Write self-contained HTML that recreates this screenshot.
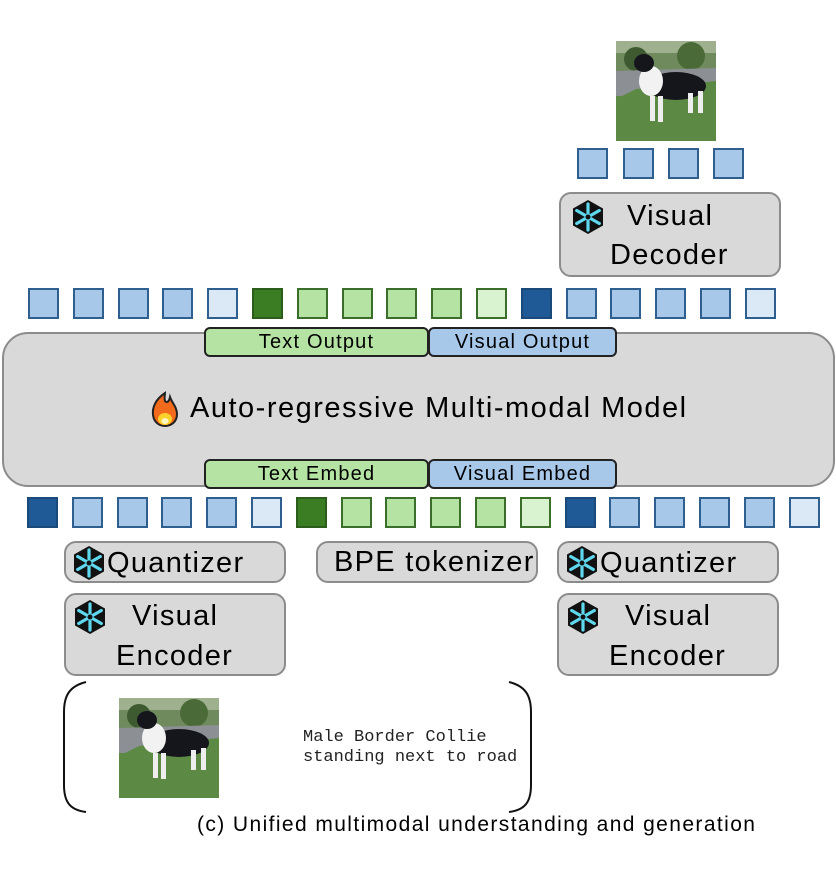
<!DOCTYPE html>
<html><head><meta charset="utf-8"><style>
body{margin:0;width:836px;height:888px;background:#fff;position:relative;overflow:hidden;font-family:"Liberation Sans",sans-serif;}
.a{position:absolute;box-sizing:border-box;}
.sq{position:absolute;width:31px;height:31px;box-sizing:border-box;border:2px solid #2f5f8f;}
.lb{background:#a8c8ea}.pb{background:#dbe8f6}.db{background:#1f5a96;border-color:#1a4a7a}
.dg{background:#3b7d23;border-color:#2b5e1a}.lg{background:#b4e3a3;border-color:#3b6e2a}.pg{background:#d9f2d0;border-color:#3b6e2a}
.box{position:absolute;box-sizing:border-box;background:#d9d9d9;border:2px solid #8c8c8c;border-radius:12px;color:#000;font-size:29px;letter-spacing:1.3px;}
.tag{position:absolute;box-sizing:border-box;border:2px solid #222;border-radius:6px;font-size:20px;text-align:center;line-height:27px;letter-spacing:1.2px;}
.sf{position:absolute;width:36px;height:36px;}
</style></head><body>

<svg style="position:absolute;left:0;top:0" width="0" height="0"><defs>
<symbol id="snow" viewBox="-18 -18 36 36">
<polygon points="0,-17 15,-8.5 15,8.5 0,17 -15,8.5 -15,-8.5" fill="#111"/>
<g stroke="#5fd8ee" stroke-width="3.2" stroke-linecap="round">
<line x1="0" y1="-13" x2="0" y2="13"/><line x1="-11.3" y1="-6.5" x2="11.3" y2="6.5"/><line x1="-11.3" y1="6.5" x2="11.3" y2="-6.5"/>
</g><circle r="2.5" fill="#111"/></symbol>
<symbol id="dog" viewBox="0 0 100 100">
<rect width="100" height="100" fill="#5b7d44"/>
<rect width="100" height="30" fill="#6f8a5c"/>
<rect x="0" y="0" width="100" height="12" fill="#9fb08e"/>
<circle cx="20" cy="18" r="12" fill="#3e5a30"/><circle cx="75" cy="15" r="14" fill="#4a6a38"/>
<polygon points="0,30 100,27 100,40 0,60" fill="#8c8f94"/>
<rect y="55" width="100" height="45" fill="#5f8a45"/>
<polygon points="0,58 20,48 100,40 100,100 0,100" fill="#5c8a44"/>
<ellipse cx="60" cy="45" rx="30" ry="14" fill="#15161c"/>
<ellipse cx="35" cy="40" rx="12" ry="15" fill="#f2f2f2"/>
<ellipse cx="28" cy="22" rx="10" ry="9" fill="#15161c"/>
<rect x="34" y="55" width="5" height="25" fill="#eee"/><rect x="42" y="55" width="5" height="26" fill="#eee"/>
<rect x="72" y="52" width="5" height="20" fill="#eee"/><rect x="82" y="50" width="5" height="22" fill="#eee"/>
</symbol></defs></svg>

<svg class="a" style="left:616px;top:41px" width="100" height="100"><use href="#dog"/></svg>
<div class="sq lb" style="left:577px;top:148px"></div>
<div class="sq lb" style="left:623px;top:148px"></div>
<div class="sq lb" style="left:668px;top:148px"></div>
<div class="sq lb" style="left:713px;top:148px"></div>

<div class="box" style="left:559px;top:192px;width:222px;height:85px;">
<span class="a" style="left:66px;top:6px">Visual</span><span class="a" style="left:49px;top:45px">Decoder</span></div>
<svg class="sf" style="left:570px;top:199px"><use href="#snow"/></svg>

<div class="sq lb" style="left:28px;top:288px"></div>
<div class="sq lb" style="left:73px;top:288px"></div>
<div class="sq lb" style="left:118px;top:288px"></div>
<div class="sq lb" style="left:162px;top:288px"></div>
<div class="sq pb" style="left:207px;top:288px"></div>
<div class="sq dg" style="left:252px;top:288px"></div>
<div class="sq lg" style="left:297px;top:288px"></div>
<div class="sq lg" style="left:342px;top:288px"></div>
<div class="sq lg" style="left:386px;top:288px"></div>
<div class="sq lg" style="left:431px;top:288px"></div>
<div class="sq pg" style="left:476px;top:288px"></div>
<div class="sq db" style="left:521px;top:288px"></div>
<div class="sq lb" style="left:566px;top:288px"></div>
<div class="sq lb" style="left:610px;top:288px"></div>
<div class="sq lb" style="left:655px;top:288px"></div>
<div class="sq lb" style="left:700px;top:288px"></div>
<div class="sq pb" style="left:745px;top:288px"></div>

<div class="box" style="left:2px;top:332px;width:833px;height:155px;border-radius:26px;"></div>
<div class="a" style="left:150px;top:391px;width:30px;height:36px;">
<svg width="30" height="36" viewBox="0 0 30 36"><path d="M15 2 C6 8 2 16 3 24 C4 32 10 35 15 35 C21 35 27 31 27 23 C27 16 22 12 20 6 C19 11 17 12 15 10 C14 7 15 4 15 2Z" fill="#f26a1b" stroke="#222" stroke-width="2"/><ellipse cx="15" cy="28" rx="7" ry="6" fill="#fbd12b"/><ellipse cx="15" cy="30" rx="3.5" ry="3" fill="#fff7c0"/></svg></div>
<div class="a" style="left:190px;top:392px;font-size:29px;letter-spacing:1.5px;white-space:nowrap;">Auto-regressive Multi-modal Model</div>
<div class="tag" style="left:204px;top:327px;width:225px;height:30px;background:#b4e3a3;">Text Output</div>
<div class="tag" style="left:428px;top:327px;width:189px;height:30px;background:#a8c8ea;">Visual Output</div>
<div class="tag" style="left:204px;top:459px;width:225px;height:30px;background:#b4e3a3;">Text Embed</div>
<div class="tag" style="left:428px;top:459px;width:189px;height:30px;background:#a8c8ea;">Visual Embed</div>

<div class="sq db" style="left:27px;top:497px"></div>
<div class="sq lb" style="left:72px;top:497px"></div>
<div class="sq lb" style="left:117px;top:497px"></div>
<div class="sq lb" style="left:161px;top:497px"></div>
<div class="sq lb" style="left:206px;top:497px"></div>
<div class="sq pb" style="left:251px;top:497px"></div>
<div class="sq dg" style="left:296px;top:497px"></div>
<div class="sq lg" style="left:341px;top:497px"></div>
<div class="sq lg" style="left:385px;top:497px"></div>
<div class="sq lg" style="left:430px;top:497px"></div>
<div class="sq lg" style="left:475px;top:497px"></div>
<div class="sq pg" style="left:520px;top:497px"></div>
<div class="sq db" style="left:565px;top:497px"></div>
<div class="sq lb" style="left:609px;top:497px"></div>
<div class="sq lb" style="left:654px;top:497px"></div>
<div class="sq lb" style="left:699px;top:497px"></div>
<div class="sq lb" style="left:744px;top:497px"></div>
<div class="sq pb" style="left:789px;top:497px"></div>

<div class="box" style="left:64px;top:541px;width:222px;height:42px;"><span class="a" style="left:41px;top:4px">Quantizer</span></div>
<svg class="sf" style="left:71px;top:545px"><use href="#snow"/></svg>
<div class="box" style="left:316px;top:541px;width:222px;height:42px;"><span class="a" style="left:16px;top:3px">BPE tokenizer</span></div>
<div class="box" style="left:557px;top:541px;width:222px;height:42px;"><span class="a" style="left:41px;top:4px">Quantizer</span></div>
<svg class="sf" style="left:564px;top:545px"><use href="#snow"/></svg>

<div class="box" style="left:64px;top:593px;width:222px;height:83px;">
<span class="a" style="left:66px;top:5px">Visual</span><span class="a" style="left:50px;top:45px">Encoder</span></div>
<svg class="sf" style="left:72px;top:599px"><use href="#snow"/></svg>
<div class="box" style="left:557px;top:593px;width:222px;height:83px;">
<span class="a" style="left:66px;top:5px">Visual</span><span class="a" style="left:50px;top:45px">Encoder</span></div>
<svg class="sf" style="left:565px;top:599px"><use href="#snow"/></svg>

<svg class="a" style="left:0;top:0" width="836" height="888">
<path d="M86 682 C70 686 64 695 64 712 L64 785 C64 802 70 810 86 812" fill="none" stroke="#111" stroke-width="2"/>
<path d="M509 682 C525 686 531 695 531 712 L531 785 C531 802 525 810 509 812" fill="none" stroke="#111" stroke-width="2"/>
</svg>
<svg class="a" style="left:119px;top:698px" width="100" height="100"><use href="#dog"/></svg>
<div class="a" style="left:303px;top:728px;font-family:'Liberation Mono',monospace;font-size:17px;line-height:20px;color:#222;white-space:nowrap;">Male Border Collie<br>standing next to road</div>
<div class="a" style="left:197px;top:813px;font-size:21px;letter-spacing:1.4px;white-space:nowrap;">(c) Unified multimodal understanding and generation</div>
</body></html>
